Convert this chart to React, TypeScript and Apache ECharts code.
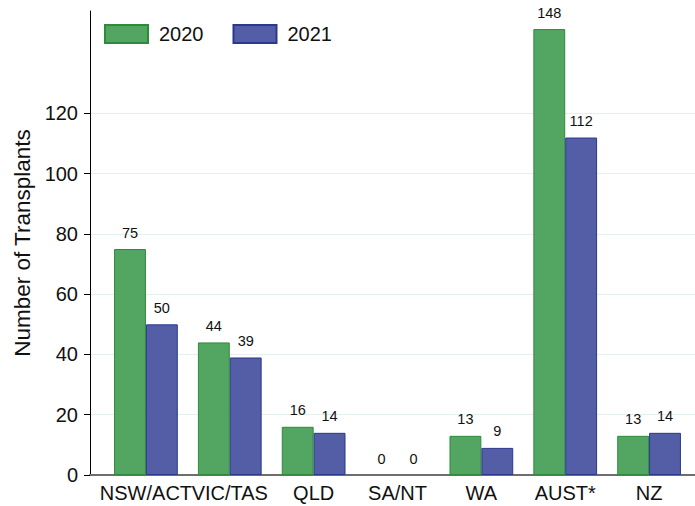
import React, { useEffect, useRef } from "react";
import * as echarts from "echarts";

const categories = ["NSW/ACT", "VIC/TAS", "QLD", "SA/NT", "WA", "AUST*", "NZ"];
const values2020 = [75, 44, 16, 0, 13, 148, 13];
const values2021 = [50, 39, 14, 0, 9, 112, 14];
const yTicks = [0, 20, 40, 60, 80, 100, 120];
const yMax = 154;

const FONT = '"Liberation Sans", Arial, Helvetica, sans-serif';

const toData = (vals: number[]) =>
  vals.map((v) => (v === 0 ? { value: v, itemStyle: { borderWidth: 0 } } : v));

export default function App() {
  const ref = useRef<HTMLDivElement>(null);
  useEffect(() => {
    if (!ref.current) return;
    const chart = echarts.init(ref.current, null, { renderer: "svg" });
    const label = {
      show: true,
      position: "top",
      distance: 9,
      fontSize: 14.5,
      color: "#111",
      fontFamily: FONT,
    };
    chart.setOption({
      animation: false,
      backgroundColor: "#ffffff",
      textStyle: { fontFamily: FONT },
      legend: {
        data: ["2020", "2021"],
        left: 104,
        top: 24,
        padding: 0,
        itemWidth: 43,
        itemHeight: 18,
        itemGap: 29,
        icon: "rect",
        textStyle: { fontSize: 20, color: "#111", fontFamily: FONT, padding: [0, 0, 0, 6] },
      },
      grid: [
        { left: 90, right: 0, top: 11, bottom: 31 },
        { left: 104, right: 4, top: 11, bottom: 31 },
      ],
      xAxis: [
        {
          gridIndex: 0,
          type: "value",
          min: 0,
          max: 1,
          axisLine: { show: true, lineStyle: { color: "#6e6e6e", width: 2 } },
          axisTick: { show: false },
          axisLabel: { show: false },
          splitLine: { show: false },
        },
        {
          gridIndex: 1,
          type: "category",
          data: categories,
          axisLine: { show: false },
          axisTick: { show: false },
          axisLabel: { interval: 0, fontSize: 20, color: "#111", margin: 8, fontFamily: FONT },
        },
      ],
      yAxis: [
        {
          gridIndex: 0,
          type: "value",
          min: 0,
          max: yMax,
          interval: 20,
          name: "Number of Transplants",
          nameLocation: "middle",
          nameGap: 53,
          nameTextStyle: { fontSize: 22.5, color: "#111", fontFamily: FONT },
          axisLine: { show: true, lineStyle: { color: "#000", width: 1 } },
          axisTick: { show: true, length: 6, customValues: yTicks, lineStyle: { color: "#000" } },
          axisLabel: { customValues: yTicks, fontSize: 20, color: "#111", margin: 12, fontFamily: FONT },
          splitLine: { show: true, lineStyle: { color: "#e6eff0", width: 1 } },
        },
        {
          gridIndex: 1,
          type: "value",
          min: 0,
          max: yMax,
          show: false,
          splitLine: { show: false },
        },
      ],
      series: [
        {
          name: "2020",
          type: "bar",
          xAxisIndex: 1,
          yAxisIndex: 1,
          data: toData(values2020),
          barGap: "0%",
          barCategoryGap: "24%",
          itemStyle: { color: "#53a662", borderColor: "#2e8b3a", borderWidth: 1 },
          label,
        },
        {
          name: "2021",
          type: "bar",
          xAxisIndex: 1,
          yAxisIndex: 1,
          data: toData(values2021),
          barGap: "0%",
          barCategoryGap: "24%",
          itemStyle: { color: "#545ea6", borderColor: "#2b388f", borderWidth: 1 },
          label,
        },
      ],
    });
    return () => chart.dispose();
  }, []);
  return (
    <div
      ref={ref}
      style={{ position: "fixed", left: 0, top: 0, width: 695, height: 506, background: "#fff" }}
    />
  );
}
